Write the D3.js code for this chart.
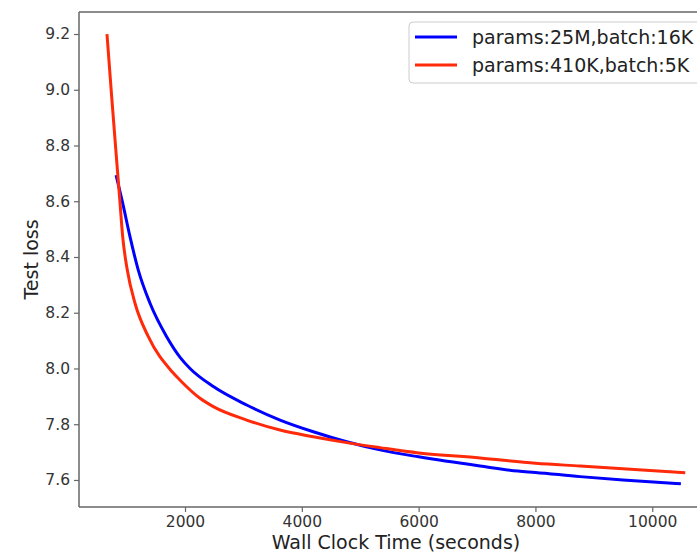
<!DOCTYPE html>
<html>
<head>
<meta charset="utf-8">
<script src="https://cdn.jsdelivr.net/npm/d3@7"></script>
<style>
  body { margin: 0; background: #fff; }
  svg { display: block; font-family: "DejaVu Sans", sans-serif; }
</style>
</head>
<body>
<svg id="chart"></svg>
<script>
// series values
var blueTime = [820, 933, 1058, 1200, 1401, 1686, 1916, 2086, 2485, 3056, 3627, 4197, 4768, 5339, 6000, 7051, 7700, 8000, 8764, 9500, 10490];
var blueLoss = [8.694, 8.593, 8.473, 8.353, 8.234, 8.114, 8.04, 8.00, 7.935, 7.869, 7.815, 7.773, 7.737, 7.708, 7.683, 7.650, 7.632, 7.627, 7.612, 7.600, 7.586];

var redTime = [664, 750, 855, 887, 933, 1012, 1144, 1372, 1772, 1916, 2257, 2485, 3056, 3627, 4197, 4768, 5339, 6000, 7051, 8000, 8764, 10565];
var redLoss = [9.20, 8.96, 8.68, 8.595, 8.473, 8.353, 8.234, 8.114, 7.99, 7.958, 7.893, 7.863, 7.815, 7.779, 7.755, 7.734, 7.716, 7.697, 7.679, 7.660, 7.650, 7.626];

var seriesNames = ["params:25M,batch:16K", "params:410K,batch:5K"];
var seriesColors = ["#0000ff", "#ff2a0a"];

var xTicks = [2000, 4000, 6000, 8000, 10000];
var yTicks = [7.6, 7.8, 8.0, 8.2, 8.4, 8.6, 8.8, 9.0, 9.2];

var svgWidth = 697;
var svgHeight = 552;
// plot box (the right edge lies just outside the picture)
var plotLeft = 79, plotTop = 12, plotRight = 713, plotBottom = 507;

var svg = d3.select("#chart")
			.attr("width", svgWidth)
			.attr("height", svgHeight);

var xScale = d3.scaleLinear()
				.domain([185, 11040])
				.range([plotLeft, plotRight]);

var yScale = d3.scaleLinear()
				.domain([7.503, 9.279])
				.range([plotBottom, plotTop]);

// 축
var xAxis = d3.axisBottom(xScale)
				.tickValues(xTicks)
				.tickSize(5)
				.tickPadding(4)
				.tickFormat(d3.format("d"));

var yAxis = d3.axisLeft(yScale)
				.tickValues(yTicks)
				.tickSize(5)
				.tickPadding(4)
				.tickFormat(d3.format(".1f"));

svg.append("g")
	.attr("class", "x axis")
	.attr("transform", "translate(0," + plotBottom + ")")
	.call(xAxis);

svg.append("g")
	.attr("class", "y axis")
	.attr("transform", "translate(" + plotLeft + ",0)")
	.call(yAxis);

svg.selectAll(".axis path").remove();
svg.selectAll(".axis line").attr("stroke", "#666").attr("stroke-width", 1.2);
svg.selectAll(".axis text")
	.attr("fill", "#333")
	.style("font-size", "15.5px")
	.style("font-family", "DejaVu Sans");

// spines (left, bottom, top)
svg.append("line").attr("x1", plotLeft).attr("x2", plotLeft).attr("y1", plotTop).attr("y2", plotBottom)
	.attr("stroke", "#666").attr("stroke-width", 1.5);
svg.append("line").attr("x1", plotLeft).attr("x2", plotRight).attr("y1", plotBottom).attr("y2", plotBottom)
	.attr("stroke", "#666").attr("stroke-width", 1.5);
svg.append("line").attr("x1", plotLeft).attr("x2", plotRight).attr("y1", plotTop).attr("y2", plotTop)
	.attr("stroke", "#666").attr("stroke-width", 1.5);

// lines
var line = d3.line()
			.x(function(d) { return xScale(d[0]); })
			.y(function(d) { return yScale(d[1]); })
			.curve(d3.curveMonotoneX);

var series = [
	d3.zip(blueTime, blueLoss),
	d3.zip(redTime, redLoss)
];

svg.selectAll(".series")
	.data(series)
	.enter()
	.append("path")
	.attr("class", "series")
	.attr("d", line)
	.attr("fill", "none")
	.attr("stroke", function(d, i) { return seriesColors[i]; })
	.attr("stroke-width", 3)
	.attr("stroke-linejoin", "round");

// axis labels
svg.append("text")
	.attr("x", (plotLeft + plotRight) / 2)
	.attr("y", 549)
	.attr("text-anchor", "middle")
	.attr("fill", "#222")
	.style("font-size", "19px")
	.text("Wall Clock Time (seconds)");

svg.append("text")
	.attr("transform", "translate(38," + ((plotTop + plotBottom) / 2) + ") rotate(-90)")
	.attr("text-anchor", "middle")
	.attr("fill", "#222")
	.style("font-size", "19px")
	.text("Test loss");

// legend
var legend = svg.append("g").attr("transform", "translate(409,22)");

legend.append("rect")
	.attr("x", 0).attr("y", 0)
	.attr("width", 310).attr("height", 61)
	.attr("rx", 4)
	.attr("fill", "#fff")
	.attr("fill-opacity", 0.8)
	.attr("stroke", "#ccc");

var items = legend.selectAll(".item")
				.data(seriesNames)
				.enter()
				.append("g")
				.attr("class", "item")
				.attr("transform", function(d, i) { return "translate(0," + (15 + i * 28) + ")"; });

items.append("line")
	.attr("x1", 6).attr("x2", 48)
	.attr("stroke", function(d, i) { return seriesColors[i]; })
	.attr("stroke-width", 3);

items.append("text")
	.attr("x", 63)
	.attr("y", 6.5)
	.attr("fill", "#222")
	.style("font-size", "19px")
	.text(function(d) { return d; });
</script>
</body>
</html>
